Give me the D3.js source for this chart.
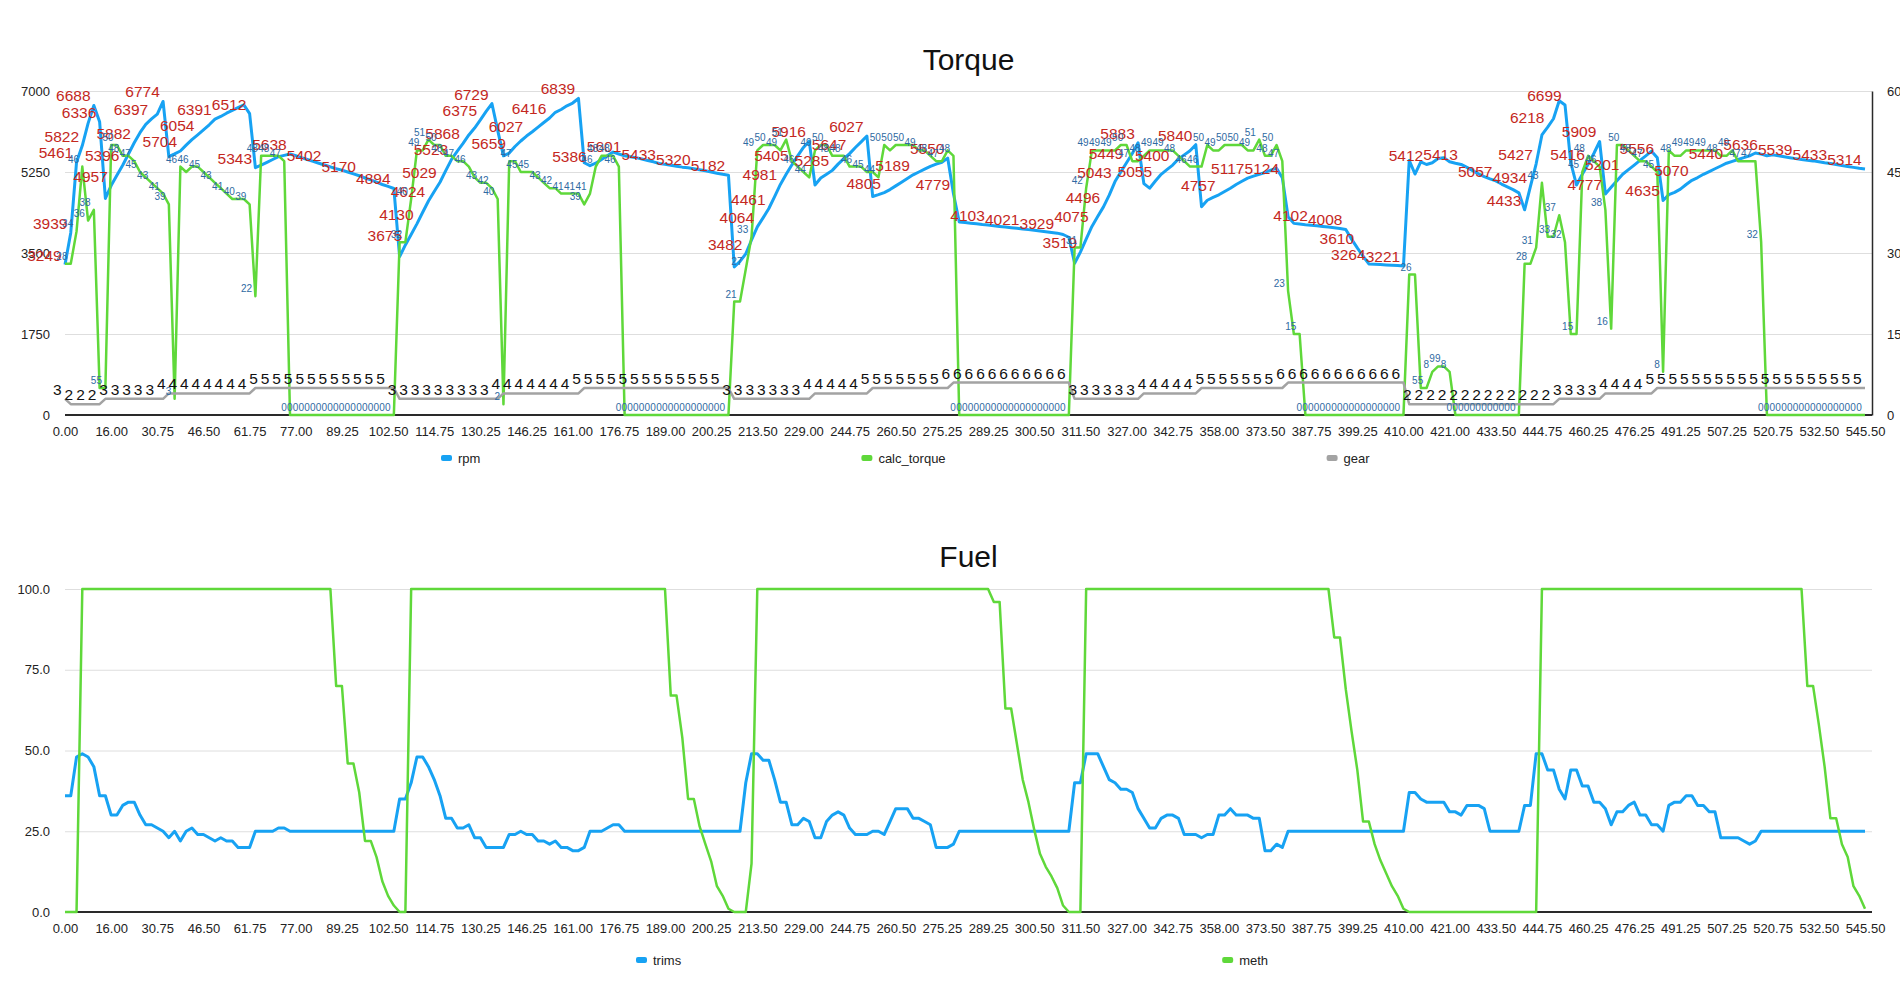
<!DOCTYPE html>
<html>
<head>
<meta charset="utf-8">
<script src="https://cdn.jsdelivr.net/npm/d3@7/dist/d3.min.js"></script>
<style>
  body { margin: 0; background: #fff; }
  svg { font-family: "Liberation Sans", Arial, Helvetica, sans-serif; display: block; }
</style>
</head>
<body>
<svg id="chart" width="1900" height="986"></svg>
<script>
// x categories (time stamps shown under every 8th sample)
const xLabels = ["0.00","16.00","30.75","46.50","61.75","77.00","89.25","102.50","114.75","130.25",
  "146.25","161.00","176.75","189.00","200.25","213.50","229.00","244.75","260.50","275.25",
  "289.25","300.50","311.50","327.00","342.75","358.00","373.50","387.75","399.25","410.00",
  "421.00","433.50","444.75","460.25","476.25","491.25","507.25","520.75","532.50","545.50"];

const rpm = [
  3249,3939,5461,5822,6300,6688,6336,4680, 4957,5180,5396,5640,5882,6100,6280,6397,
  6500,6774,5580,5640,5704,5830,5950,6054, 6160,6270,6391,6450,6520,6580,6640,6700,
  6512,5343,5400,5460,5520,5580,5610,5638, 5600,5560,5520,5480,5440,5402,5360,5320,
  5290,5250,5210,5170,5120,5080,5030,4980, 4940,4894,3420,3675,3900,4130,4380,4624,
  4830,5029,5280,5523,5700,5868,6050,6200, 6375,6560,6729,6150,5600,5659,5800,5920,
  6027,6120,6220,6320,6416,6540,6600,6680, 6740,6839,5450,5386,5440,5520,5600,5680,
  5640,5601,5580,5560,5530,5500,5470,5433, 5415,5395,5375,5355,5340,5320,5300,5275,
  5250,5225,5200,5182,3200,3320,3482,3780, 4064,4260,4461,4720,4981,5200,5405,5600,
  5780,5916,4970,5120,5200,5285,5420,5540, 5647,5780,5900,6027,4720,4760,4805,4870,
  4950,5030,5110,5189,5250,5310,5370,5420, 5460,5550,4779,4170,4160,4145,4130,4115,
  4103,4090,4075,4062,4048,4035,4021,4005, 3990,3975,3960,3945,3929,3900,3840,3280,
  3519,3800,4075,4290,4496,4750,5043,5250, 5449,5650,5883,5000,4900,5055,5200,5300,
  5400,5530,5620,5710,5840,4500,4640,4700, 4757,4830,4900,4980,5050,5117,5160,5200,
  5240,5290,5330,5124,4284,4140,4125,4112, 4102,4090,4075,4060,4045,4030,4008,3800,
  3610,3430,3264,3258,3250,3242,3235,3228, 3221,5500,5206,5470,5412,5450,5540,5560,
  5470,5440,5413,5350,5280,5210,5150,5100, 5057,4990,4930,4870,4800,4433,4934,5427,
  6050,6218,6400,6790,6699,5450,4968,5200, 5416,5650,5909,4777,4920,5060,5201,5300,
  5400,5500,5600,5700,5556,4635,4760,4810, 4880,4980,5070,5130,5200,5260,5320,5380,
  5440,5480,5520,5560,5600,5660,5636,5600, 5620,5600,5580,5560,5539,5520,5505,5490,
  5470,5450,5433,5410,5390,5370,5350,5330, 5314];

const calcTorque = [
  28,28,34,46,36,38,5,5, 50,50,48,48,47,45,44,43,
  42,41,39,3,46,45,46,46, 45,44,43,42,41,40,40,40,
  39,22,48,48,48,48,47,0, 0,0,0,0,0,0,0,0,
  0,0,0,0,0,0,0,0, 0,0,32,32,40,49,49,51,
  50,50,48,48,47,47,46,44, 43,43,42,40,2,47,47,45,
  45,45,44,43,42,42,41,41, 41,41,39,41,46,48,48,48,
  46,0,0,0,0,0,0,0, 0,0,0,0,0,0,0,0,
  0,0,0,0,21,21,27,33, 49,50,50,50,49,51,47,46,
  45,44,49,50,50,48,48,48, 46,46,46,45,45,44,50,49,
  50,50,50,50,49,49,48,47, 47,49,48,0,0,0,0,0,
  0,0,0,0,0,0,0,0, 0,0,0,0,0,0,0,31,
  31,42,49,49,49,49,49,50, 50,47,47,48,49,49,49,49,
  49,48,47,46,46,46,50,49, 49,50,50,50,50,49,49,51,
  48,48,50,47,23,15,15,0, 0,0,0,0,0,0,0,0,
  0,0,0,0,0,0,0,0, 0,26,26,5,5,8,9,9,
  8,0,0,0,0,0,0,0, 0,0,0,0,0,28,28,31,
  43,33,33,37,32,15,15,45, 48,47,46,38,16,50,50,49,
  48,47,47,46,45,8,49,48, 48,49,49,49,49,49,49,48,
  48,49,47,47,47,47,32,0, 0,0,0,0,0,0,0,0,
  0,0,0,0,0,0,0,0, 0];

const gear = [
  3,2,2,2,2,2,2,3, 3,3,3,3,3,3,3,3,
  3,3,4,4,4,4,4,4, 4,4,4,4,4,4,4,4,
  4,5,5,5,5,5,5,5, 5,5,5,5,5,5,5,5,
  5,5,5,5,5,5,5,5, 5,5,3,3,3,3,3,3,
  3,3,3,3,3,3,3,3, 3,3,3,3,4,4,4,4,
  4,4,4,4,4,4,4,4, 4,4,5,5,5,5,5,5,
  5,5,5,5,5,5,5,5, 5,5,5,5,5,5,5,5,
  5,5,5,5,3,3,3,3, 3,3,3,3,3,3,3,3,
  3,3,4,4,4,4,4,4, 4,4,4,4,5,5,5,5,
  5,5,5,5,5,5,5,5, 5,5,6,6,6,6,6,6,
  6,6,6,6,6,6,6,6, 6,6,6,6,6,6,6,3,
  3,3,3,3,3,3,3,3, 3,3,3,4,4,4,4,4,
  4,4,4,4,4,5,5,5, 5,5,5,5,5,5,5,5,
  5,5,5,5,6,6,6,6, 6,6,6,6,6,6,6,6,
  6,6,6,6,6,6,6,6, 6,2,2,2,2,2,2,2,
  2,2,2,2,2,2,2,2, 2,2,2,2,2,2,2,2,
  2,2,2,3,3,3,3,3, 3,3,3,4,4,4,4,4,
  4,4,4,4,5,5,5,5, 5,5,5,5,5,5,5,5,
  5,5,5,5,5,5,5,5, 5,5,5,5,5,5,5,5,
  5,5,5,5,5,5,5,5, 5];

const trims = [
  36,36,48,49,48,45,36,36, 30,30,33,34,34,30,27,27,
  26,25,23,25,22,25,26,24, 24,23,22,23,22,22,20,20,
  20,25,25,25,25,26,26,25, 25,25,25,25,25,25,25,25,
  25,25,25,25,25,25,25,25, 25,25,35,35,40,48,48,45,
  41,36,29,29,26,26,27,23, 23,20,20,20,20,24,24,25,
  24,24,22,22,21,22,20,20, 19,19,20,25,25,25,26,27,
  27,25,25,25,25,25,25,25, 25,25,25,25,25,25,25,25,
  25,25,25,25,25,25,40,49, 49,47,47,41,34,34,27,27,
  29,28,23,23,28,30,31,30, 26,24,24,24,25,25,24,28,
  32,32,32,29,29,28,27,20, 20,20,21,25,25,25,25,25,
  25,25,25,25,25,25,25,25, 25,25,25,25,25,25,25,40,
  40,49,49,49,45,41,40,38, 38,37,32,29,26,26,29,30,
  30,29,24,24,24,23,24,24, 30,30,32,30,30,30,29,29,
  19,19,21,20,25,25,25,25, 25,25,25,25,25,25,25,25,
  25,25,25,25,25,25,25,25, 25,37,37,35,34,34,34,34,
  31,31,30,33,33,33,32,25, 25,25,25,25,25,33,33,49,
  49,44,44,38,35,44,44,39, 39,34,34,32,27,31,31,33,
  34,30,30,27,27,25,33,34, 34,36,36,33,33,31,31,23,
  23,23,23,22,21,22,25,25, 25,25,25,25,25,25,25,25,
  25,25,25,25,25,25,25,25, 25];

const meth = [
  0,0,0,100,100,100,100,100, 100,100,100,100,100,100,100,100,
  100,100,100,100,100,100,100,100, 100,100,100,100,100,100,100,100,
  100,100,100,100,100,100,100,100, 100,100,100,100,100,100,100,70,
  70,46,46,37,22,22,17,9.5, 5,2,0,0,100,100,100,100,
  100,100,100,100,100,100,100,100, 100,100,100,100,100,100,100,100,
  100,100,100,100,100,100,100,100, 100,100,100,100,100,100,100,100,
  100,100,100,100,100,100,100,100, 100,67,67,54,35,35,26.5,21,
  15.7,8,5,1,0,0,0,15, 100,100,100,100,100,100,100,100,
  100,100,100,100,100,100,100,100, 100,100,100,100,100,100,100,100,
  100,100,100,100,100,100,100,100, 100,100,100,100,100,100,100,100,
  100,96,96,63,63,52,41,34, 25.5,18,14,11,7.4,2,0,0,
  0,100,100,100,100,100,100,100, 100,100,100,100,100,100,100,100,
  100,100,100,100,100,100,100,100, 100,100,100,100,100,100,100,100,
  100,100,100,100,100,100,100,100, 100,100,100,100,85,85,69,56,
  44,28,28,21,16,12,8,5, 1,0,0,0,0,0,0,0,
  0,0,0,0,0,0,0,0, 0,0,0,0,0,0,0,0,
  100,100,100,100,100,100,100,100, 100,100,100,100,100,100,100,100,
  100,100,100,100,100,100,100,100, 100,100,100,100,100,100,100,100,
  100,100,100,100,100,100,100,100, 100,100,100,100,100,100,70,70,
  58,45,29,29,21,17,8,5, 1];

const rpmTicks = [0, 1750, 3500, 5250, 7000];
const rightTicks = [0, 15, 30, 45, 60];
const fuelTicks = [0, 25, 50, 75, 100];

const C = {
  blue: "#17a2f3", green: "#5fd83a", gray: "#a3a3a3",
  red: "#c4281e", tlab: "#2f6aa2", grid: "#dedede", axis: "#2a2a2a", text: "#222"
};

const svg = d3.select("#chart");
const left = 65, right = 1872;
const x = d3.scaleLinear().domain([0, rpm.length - 1]).range([65, 1865]);
const tickIdx = xLabels.map((d, i) => i * (rpm.length - 1) / (xLabels.length - 1));

function frame(top, bottom, ticks, fmt, title, titleY) {
  const y = d3.scaleLinear().domain([ticks[0], ticks[ticks.length - 1]]).range([bottom, top]);
  const g = svg.append("g");
  // grid
  g.append("g").attr("transform", `translate(${left},0)`)
    .call(d3.axisLeft(y).tickValues(ticks.slice(1)).tickSize(-(right - left)).tickFormat(""))
    .call(s => s.select(".domain").remove())
    .selectAll("line").attr("stroke", C.grid).attr("stroke-width", 1);
  // left labels
  g.append("g").attr("transform", `translate(${left},0)`)
    .call(d3.axisLeft(y).tickValues(ticks).tickSize(0).tickPadding(15).tickFormat(fmt))
    .call(s => s.select(".domain").remove())
    .selectAll("text").attr("font-size", 13).attr("fill", C.text).attr("font-family", null);
  // x labels
  g.append("g").attr("transform", `translate(0,${bottom})`)
    .call(d3.axisBottom(x).tickValues(tickIdx).tickSize(0).tickPadding(12).tickFormat((d, i) => xLabels[i]))
    .call(s => s.select(".domain").remove())
    .selectAll("text").attr("font-size", 13).attr("fill", C.text).attr("font-family", null);
  g.append("line").attr("x1", left).attr("x2", right).attr("y1", bottom).attr("y2", bottom)
    .attr("stroke", C.axis).attr("stroke-width", 2);
  svg.append("text").attr("x", (left + right) / 2).attr("y", titleY).attr("text-anchor", "middle")
    .attr("font-size", 30).attr("fill", "#111").text(title);
  return { y, g };
}

function series(g, vals, y, color, width) {
  const line = d3.line().x((d, i) => x(i)).y(d => y(d));
  g.append("path").datum(vals).attr("fill", "none").attr("stroke", color)
    .attr("stroke-width", width).attr("stroke-linejoin", "round").attr("d", line);
}

// value labels sit up-left of each point; a label is dropped when it would overlap
// one already placed (walking from the right end)
function valueLabels(g, vals, y, color, size) {
  const t = g.append("g").attr("fill", color).attr("font-size", size).attr("text-anchor", "end");
  const placed = [];
  for (let i = vals.length - 1; i >= 0; i--) {
    const tx = x(i) - 3.3, ty = y(vals[i]) - 4;
    const node = t.append("text").attr("x", tx).attr("y", ty).text(vals[i]);
    const w = node.node().getComputedTextLength();
    const b = [tx - w + 0.6, ty - size, tx - 0.6, ty];
    if (placed.some(p => p[0] < b[2] && b[0] < p[2] && p[1] < b[3] && b[1] < p[3])) node.remove();
    else placed.push(b);
  }
}

function legend(items, startX, gap, cy) {
  let cx = startX;
  for (const it of items) {
    const g = svg.append("g");
    g.append("rect").attr("x", cx).attr("y", cy - 3).attr("width", 11).attr("height", 6).attr("rx", 2).attr("fill", it.color);
    const t = g.append("text").attr("x", cx + 17).attr("y", cy).attr("dy", "0.35em")
      .attr("font-size", 13).attr("fill", C.text).text(it.label);
    cx += 17 + t.node().getComputedTextLength() + gap;
  }
}

// ---- Torque ----
const top1 = frame(91, 415, rpmTicks, d3.format("d"), "Torque", 70);
const yR = d3.scaleLinear().domain([0, 60]).range([415, 91]);
top1.g.append("g").attr("transform", `translate(${right},0)`)
  .call(d3.axisRight(yR).tickValues(rightTicks).tickSize(0).tickSizeOuter(0).tickPadding(15))
  .call(s => s.select(".domain").attr("stroke", C.axis).attr("stroke-width", 1.5))
  .selectAll("text").attr("font-size", 13).attr("fill", C.text).attr("font-family", null);
series(top1.g, rpm, top1.y, C.blue, 3);
series(top1.g, calcTorque, yR, C.green, 2.5);
series(top1.g, gear, yR, C.gray, 2.5);
valueLabels(top1.g, rpm, top1.y, C.red, 15.5);
valueLabels(top1.g, calcTorque, yR, C.tlab, 10);
valueLabels(top1.g, gear, yR, "#111", 15.5);
legend([{ label: "rpm", color: C.blue }, { label: "calc_torque", color: C.green }, { label: "gear", color: C.gray }], 441, 381, 458);

// ---- Fuel ----
const bot = frame(589, 912, fuelTicks, d3.format(".1f"), "Fuel", 567);
series(bot.g, trims, bot.y, C.blue, 3);
series(bot.g, meth, bot.y, C.green, 2.5);
legend([{ label: "trims", color: C.blue }, { label: "meth", color: C.green }], 636, 541, 960);
</script>
</body>
</html>
